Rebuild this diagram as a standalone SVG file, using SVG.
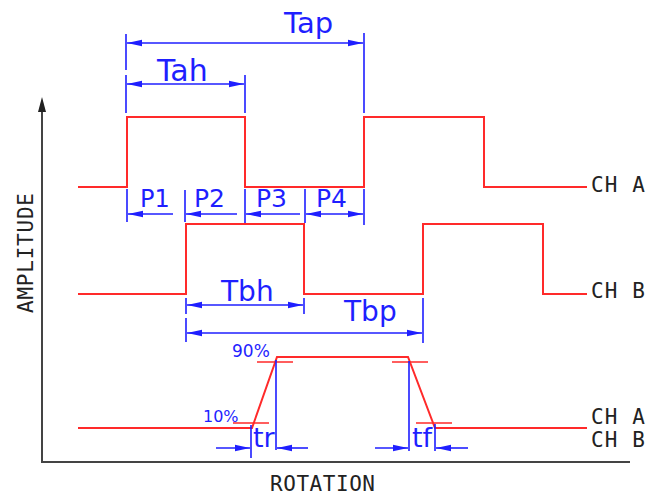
<svg xmlns="http://www.w3.org/2000/svg" width="661" height="495" viewBox="0 0 661 495">
<style>
.wave{fill:none;stroke:#ff2a2a;stroke-width:2;stroke-linejoin:miter}
.tick{fill:none;stroke:#ff2a2a;stroke-width:1.6}
.dim{fill:none;stroke:#1f1fff;stroke-width:1.6}
.arr{fill:none;stroke:#1f1fff;stroke-width:1.6;marker-end:url(#ah)}
.arr2{fill:none;stroke:#1f1fff;stroke-width:1.6;marker-start:url(#ah);marker-end:url(#ah)}
.bl{fill:#1f1fff;font-family:"DejaVu Sans","Liberation Sans",sans-serif}
.lbl{fill:#222;font-family:"DejaVu Sans Mono","Liberation Mono",monospace;font-size:21px}
.axis{fill:none;stroke:#444;stroke-width:2}
</style>
<defs>
<marker id="ah" markerUnits="userSpaceOnUse" markerWidth="16" markerHeight="8" refX="15" refY="4" orient="auto-start-reverse">
<path d="M0,0.7 L15,4 L0,7.3 z" fill="#1f1fff"/>
</marker>
</defs>
<rect width="661" height="495" fill="#fff"/>

<g id="axes">
<path class="axis" d="M42,462 L42,110"/>
<path d="M42,97 L46,112 L38,112 z" fill="#222"/>
<path class="axis" d="M41,462 L630,462"/>
<text class="lbl" transform="translate(33,313) rotate(-90)" textLength="120" lengthAdjust="spacing">AMPLITUDE</text>
<text class="lbl" x="270" y="491" textLength="105" lengthAdjust="spacing">ROTATION</text>
</g>

<g id="waveforms">
<path id="chA" class="wave" d="M78,187 L127,187 L127,117 L245,117 L245,187 L364,187 L364,117 L484,117 L484,187 L587,187"/>
<path id="chB" class="wave" d="M78,294 L186,294 L186,224 L304,224 L304,294 L423,294 L423,224 L543,224 L543,294 L587,294"/>
<path id="edges" class="wave" d="M78,428 L252,428 L277,357 L408,357 L435,428 L587,428"/>
<path class="tick" d="M257,362 L293,362 M392,362 L428,362 M233,423 L269,423 M416,423 L452,423"/>
</g>

<g id="channel-labels">
<text class="lbl" x="591" y="192" textLength="54" lengthAdjust="spacing">CH A</text>
<text class="lbl" x="591" y="298" textLength="54" lengthAdjust="spacing">CH B</text>
<text class="lbl" x="591" y="424" textLength="54" lengthAdjust="spacing">CH A</text>
<text class="lbl" x="591" y="447" textLength="54" lengthAdjust="spacing">CH B</text>
</g>

<g id="dimensions">
<!-- Tap / Tah -->
<path class="dim" d="M126,34 L126,70 M126,75 L126,113 M364,33 L364,113 M245,75 L245,113"/>
<path class="arr2" d="M127,43 L363,43"/>
<path class="arr2" d="M127,84 L244,84"/>
<text class="bl" x="284" y="33" font-size="29">Tap</text>
<text class="bl" x="157" y="81" font-size="30">Tah</text>
<!-- P1..P4 -->
<path class="dim" d="M127,189 L127,222 M185,190 L185,222 M245,189 L245,223 M305,189 L305,223 M364,189 L364,225"/>
<path class="arr" d="M173,214 L128,214"/>
<path class="arr" d="M237,214 L186,214"/>
<path class="arr" d="M300,214 L246,214"/>
<path class="arr2" d="M306,214 L363,214"/>
<text class="bl" x="140" y="207" font-size="24">P1</text>
<text class="bl" x="194" y="207" font-size="25">P2</text>
<text class="bl" x="256" y="207" font-size="25">P3</text>
<text class="bl" x="316" y="207" font-size="25">P4</text>
<!-- Tbh / Tbp -->
<path class="dim" d="M186,298 L186,314 M304,298 L304,314 M186,318 L186,342 M423,298 L423,343"/>
<path class="arr2" d="M187,305 L303,305"/>
<path class="arr2" d="M187,333 L422,333"/>
<text class="bl" x="221" y="301" font-size="28">Tbh</text>
<text class="bl" x="344" y="321" font-size="28">Tbp</text>
<!-- 90% / 10% -->
<text class="bl" x="232" y="357" font-size="17">90%</text>
<text class="bl" x="203" y="422" font-size="16">10%</text>
<!-- tr / tf -->
<path class="dim" d="M251,425 L251,458 M276,360 L276,450 M409,361 L409,451 M435,424 L435,451"/>
<path class="arr" d="M216,448 L250,448"/>
<path class="arr" d="M308,448 L277,448"/>
<path class="arr" d="M375,448 L408,448"/>
<path class="arr" d="M468,448 L436,448"/>
<text class="bl" x="253" y="447" font-size="27">tr</text>
<text class="bl" x="412" y="447" font-size="27">tf</text>
</g>
</svg>
